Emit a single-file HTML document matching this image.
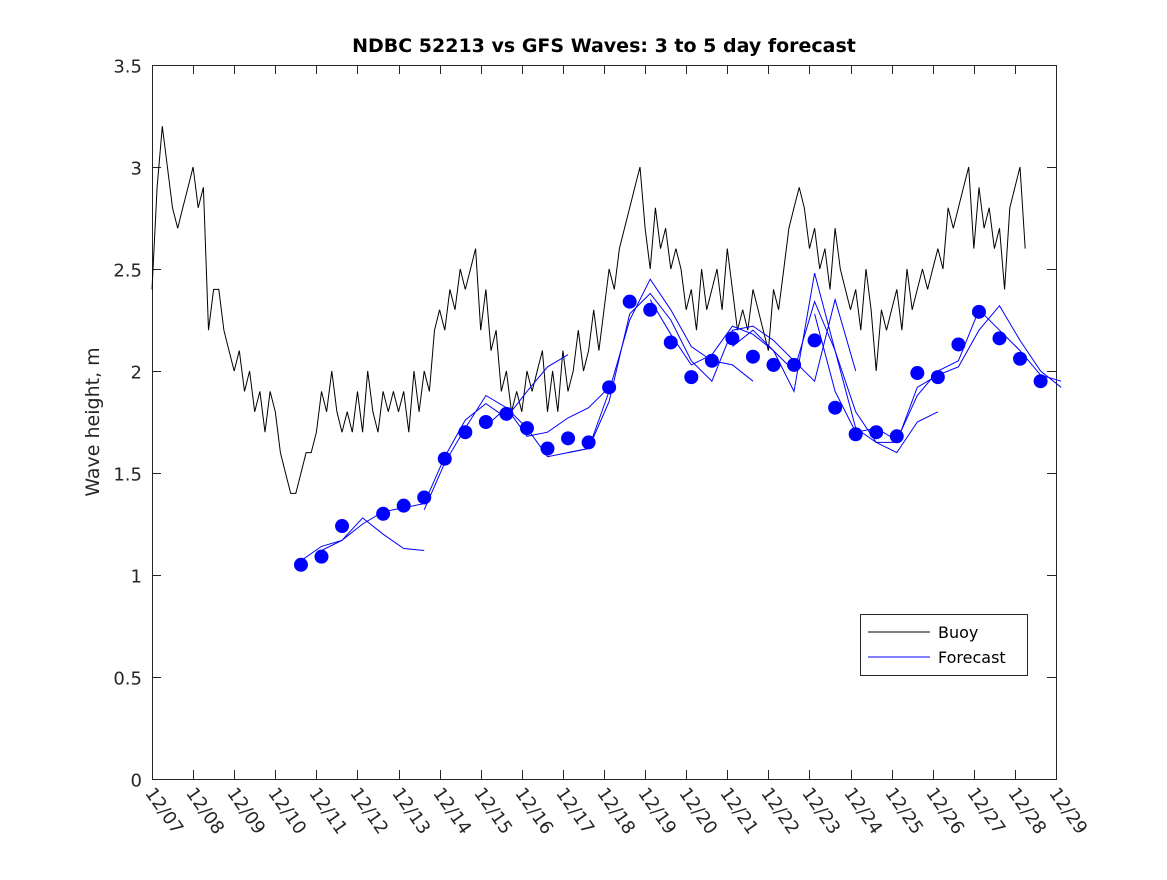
<!DOCTYPE html>
<html><head><meta charset="utf-8"><style>
body{margin:0;background:#fff;}
svg text{font-family:"DejaVu Sans","Liberation Sans",sans-serif;}
</style></head><body>
<svg id="c" width="1167" height="875" xmlns="http://www.w3.org/2000/svg">
<rect width="1167" height="875" fill="#fff"/>
<text x="604" y="52" text-anchor="middle" font-size="19" font-weight="bold">NDBC 52213 vs GFS Waves: 3 to 5 day forecast</text>
<text transform="translate(99,422) rotate(-90)" text-anchor="middle" font-size="19" fill="#262626">Wave height, m</text>
<g id="axes"></g>
<g id="plot"></g>
<g>
<rect x="860.5" y="614.5" width="167" height="61" fill="#fff" stroke="#262626"/>
<line x1="868" y1="632" x2="930" y2="632" stroke="#000"/>
<text x="938" y="638" font-size="16" fill="#000">Buoy</text>
<line x1="868" y1="657" x2="930" y2="657" stroke="#00f"/>
<text x="938" y="663" font-size="16" fill="#000">Forecast</text>
</g>
</svg>
<script>
const yTicks=[0,0.5,1,1.5,2,2.5,3,3.5];
const yTickLabels=["0","0.5","1","1.5","2","2.5","3","3.5"];
const xTickLabels=["12/07","12/08","12/09","12/10","12/11","12/12","12/13","12/14","12/15","12/16","12/17","12/18","12/19","12/20","12/21","12/22","12/23","12/24","12/25","12/26","12/27","12/28","12/29"];
const buoyStepsPerDay=8;
const buoy=[2.4,2.9,3.2,3.0,2.8,2.7,2.8,2.9,
3.0,2.8,2.9,2.2,2.4,2.4,2.2,2.1,
2.0,2.1,1.9,2.0,1.8,1.9,1.7,1.9,
1.8,1.6,1.5,1.4,1.4,1.5,1.6,1.6,
1.7,1.9,1.8,2.0,1.8,1.7,1.8,1.7,
1.9,1.7,2.0,1.8,1.7,1.9,1.8,1.9,
1.8,1.9,1.7,2.0,1.8,2.0,1.9,2.2,
2.3,2.2,2.4,2.3,2.5,2.4,2.5,2.6,
2.2,2.4,2.1,2.2,1.9,2.0,1.8,1.9,
1.8,2.0,1.9,2.0,2.1,1.8,2.0,1.8,
2.1,1.9,2.0,2.2,2.0,2.1,2.3,2.1,
2.3,2.5,2.4,2.6,2.7,2.8,2.9,3.0,
2.7,2.5,2.8,2.6,2.7,2.5,2.6,2.5,
2.3,2.4,2.2,2.5,2.3,2.4,2.5,2.3,
2.6,2.4,2.2,2.3,2.2,2.4,2.3,2.2,
2.1,2.4,2.3,2.5,2.7,2.8,2.9,2.8,
2.6,2.7,2.5,2.6,2.4,2.7,2.5,2.4,
2.3,2.4,2.2,2.5,2.3,2.0,2.3,2.2,
2.3,2.4,2.2,2.5,2.3,2.4,2.5,2.4,
2.5,2.6,2.5,2.8,2.7,2.8,2.9,3.0,
2.6,2.9,2.7,2.8,2.6,2.7,2.4,2.8,
2.9,3.0,2.6];
const fcStartDay=3.625, fcStepDay=0.5;
const N=null;
const dots=[1.05,1.09,1.24,N,1.30,1.34,1.38,1.57,1.70,1.75,1.79,1.72,1.62,1.67,1.65,1.92,2.34,2.30,2.14,1.97,2.05,2.16,2.07,2.03,2.03,2.15,1.82,1.69,1.70,1.68,1.99,1.97,2.13,2.29,2.16,2.06,1.95];
const fcA=[1.07,1.14,1.17,1.28,1.20,1.13,1.12];
const fcB=[N,1.12,1.17,1.25,1.31,1.33,1.35,1.58,1.76,1.84,1.77,1.90,2.02,2.08];
const fcC=[N,N,N,N,N,N,1.32,1.55,1.72,1.88,1.82,1.68,1.70,1.77,1.82,1.92];
const fcD=[N,N,N,N,N,N,N,N,N,1.73,1.82,1.72,1.58,1.60,1.62,1.90,2.25,2.45,2.30,2.12,2.05,2.03,1.95];
const fcE=[N,N,N,N,N,N,N,N,N,N,N,N,N,1.60,1.62,1.85,2.28,2.38,2.25,2.05,1.95,2.20,2.22,2.15,2.05,1.95,2.35,2.00];
const fcF=[N,N,N,N,N,N,N,N,N,N,N,N,N,N,N,N,N,2.35,2.18,2.03,2.08,2.22,2.18,2.10,1.90,2.48,2.10,1.80,1.65,1.60,1.75,1.80];
const fcG=[N,N,N,N,N,N,N,N,N,N,N,N,N,N,N,N,N,N,N,N,N,2.12,2.20,2.10,2.00,2.34,2.10,1.72,1.65,1.65,1.92,1.98,2.02,2.20,2.32,2.15,2.00,1.92];
const fcH=[N,N,N,N,N,N,N,N,N,N,N,N,N,N,N,N,N,N,N,N,N,N,N,N,N,2.28,1.90,1.70,1.72,1.66,1.88,2.00,2.05,2.30,2.20,2.10,1.98,1.95];

const X0=152,X1=1056,Y0=779,Y1=65;
const xs=d=>X0+(X1-X0)*d/22;
const ys=v=>Y0-(Y0-Y1)*v/3.5;
const NS="http://www.w3.org/2000/svg";
function mk(tag,attrs,parent){const e=document.createElementNS(NS,tag);for(const k in attrs)e.setAttribute(k,attrs[k]);parent.appendChild(e);return e;}
const ax=document.getElementById('axes'),pl=document.getElementById('plot');
let box=mk('rect',{x:X0+.5,y:Y1+.5,width:X1-X0,height:Y0-Y1,fill:'none',stroke:'#262626'},ax);


yTicks.forEach((v,i)=>{
 const y=Math.round(ys(v))+.5;
 let t=mk('path',{d:`M${X0} ${y}h9M${X1} ${y}h-9`,stroke:'#262626'},ax);
 
 
 let l=mk('text',{x:X0-10,y:y+7,'text-anchor':'end','font-size':18,fill:'#262626'},ax);
 l.textContent=yTickLabels[i];
 
 
});
xTickLabels.forEach((s,i)=>{
 const x=Math.round(xs(i))+.5;
 let t=mk('path',{d:`M${x} ${Y0}v-9M${x} ${Y1}v9`,stroke:'#262626'},ax);
 
 
 let l=mk('text',{transform:`translate(${x-8},${Y0+14}) rotate(55)`,'font-size':18,fill:'#262626'},ax);
 l.textContent=s;
 
 
});
let bp='';
buoy.forEach((v,i)=>{const x=xs(i/buoyStepsPerDay),y=ys(v);bp+=(i?'L':'M')+x.toFixed(1)+' '+y.toFixed(1);});
let bl=mk('path',{d:bp,fill:'none',stroke:'#000','stroke-width':1},pl);


[fcA,fcB,fcC,fcD,fcE,fcF,fcG,fcH].forEach(arr=>{
 let d='',pen=false;
 arr.forEach((v,i)=>{if(v==null){pen=false;return;}const x=xs(fcStartDay+fcStepDay*i),y=ys(v);d+=(pen?'L':'M')+x.toFixed(1)+' '+y.toFixed(1);pen=true;});
 let p=mk('path',{d:d,fill:'none',stroke:'#00f','stroke-width':1},pl);
 
 
});
dots.forEach((v,i)=>{
 if(v==null)return;
 let c=mk('circle',{cx:xs(fcStartDay+fcStepDay*i),cy:ys(v),r:7,fill:'#00f'},pl);
 
 
});
</script>
</body></html>
